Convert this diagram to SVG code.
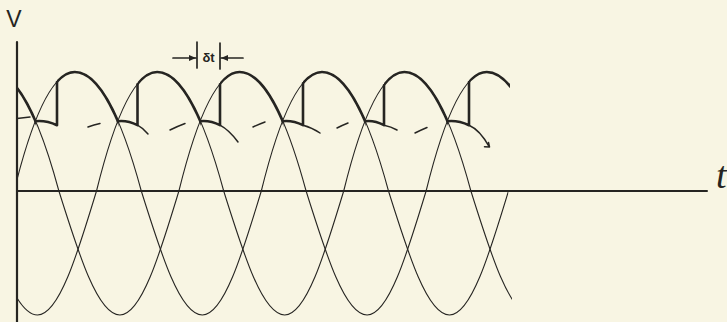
<svg xmlns="http://www.w3.org/2000/svg" width="727" height="322" viewBox="0 0 727 322">
<style>
.bg{fill:#f8f5e3}
.ln{fill:none;stroke:#262522;stroke-linecap:round;stroke-linejoin:round}
.thin{stroke-width:1.1}
.bold{stroke-width:2.6}
.dash{stroke-width:1.5}
.axis{stroke-width:2.2}
.lbl{font-family:"Liberation Sans",Arial,sans-serif;fill:#262522}
</style>
<defs>
<path id="pA" d="M14.1,191 C32.3,117.2 52.9,72 74.8,72 C98.7,72 121.35,117.2 141.3,191 C161.2,254.5 180.2,315 202.3,315 C223.7,315 242.1,254.5 261.3,191 C279.5,117.2 300.1,72 322,72 C345.9,72 368.55,117.2 388.5,191 C408.4,254.5 427.4,315 449.5,315 C470.9,315 489.3,254.5 508.5,191"/>
<path id="pB" d="M-23.5,191 C-3.6,254.5 15.4,315 37.5,315 C58.9,315 77.3,254.5 96.5,191 C114.7,117.2 135.3,72 157.2,72 C181.1,72 203.75,117.2 223.7,191 C243.6,254.5 262.6,315 284.7,315 C306.1,315 324.5,254.5 343.7,191 C361.9,117.2 382.5,72 404.4,72 C428.3,72 450.95,117.2 470.9,191 C490.8,254.5 509.8,315 531.9,315"/>
<path id="pC" d="M-7.6,72 C16.3,72 38.95,117.2 58.9,191 C78.8,254.5 97.8,315 119.9,315 C141.3,315 159.7,254.5 178.9,191 C197.1,117.2 217.7,72 239.6,72 C263.5,72 286.15,117.2 306.1,191 C326,254.5 345,315 367.1,315 C388.5,315 406.9,254.5 426.1,191 C444.3,117.2 464.9,72 486.8,72 C510.7,72 533.35,117.2 553.3,191"/>
<clipPath id="cA"><rect x="17" y="0" width="491.5" height="322"/></clipPath>
<clipPath id="cB"><rect x="17" y="0" width="495" height="322"/></clipPath>
<clipPath id="cC"><rect x="17" y="0" width="493" height="322"/></clipPath>
<clipPath id="bA"><rect x="57" y="40" width="61.5" height="150"/><rect x="303" y="40" width="62.7" height="150"/></clipPath>
<clipPath id="bB"><rect x="137.5" y="40" width="63.4" height="150"/><rect x="384" y="40" width="64.1" height="150"/></clipPath>
<clipPath id="bC"><rect x="17" y="40" width="19.1" height="150"/><rect x="220" y="40" width="63.3" height="150"/><rect x="469" y="40" width="41" height="150"/></clipPath>
<marker id="ar" viewBox="0 0 7 6" refX="7" refY="3" markerWidth="7" markerHeight="6" markerUnits="userSpaceOnUse" orient="auto"><path d="M0,0 L7,3 L0,6 z" fill="#262522"/></marker>
</defs>
<rect class="bg" x="0" y="0" width="727" height="322"/>
<g id="phases" class="ln thin">
<use href="#pA" clip-path="url(#cA)"/>
<use href="#pB" clip-path="url(#cB)"/>
<use href="#pC" clip-path="url(#cC)"/>
</g>
<g id="grid-arcs" class="ln dash">
<path d="M17,118.5 L30,117"/>
<path d="M88,127 Q94,124.8 100,123.5"/>
<path d="M170,130 Q177.5,126.3 185,123.5"/>
<path d="M253,127 Q259,124.2 265,122"/>
<path d="M337,128 Q342.5,125.2 348,123"/>
<path d="M415,133 Q421,130 427,127.5"/>
<path d="M137.5,125.2 Q143,128 148,134"/>
<path d="M220,125.2 Q229,130 238,142"/>
<path d="M303,125.2 Q312,127.5 320,133"/>
<path d="M384,125.2 Q391,126.5 397,130"/>
<path d="M469,125.2 Q480,130 489,146.5 M484.5,146.8 L489.5,147 L488.5,142.5"/>
</g>
<g id="output" class="ln bold">
<use href="#pA" clip-path="url(#bA)"/>
<use href="#pB" clip-path="url(#bB)"/>
<use href="#pC" clip-path="url(#bC)"/>
<path d="M35.5,121.2 Q46.3,120.2 57,125.2 L57,82"/>
<path d="M117.9,121.2 Q127.7,120.2 137.5,125.2 L137.5,84.3"/>
<path d="M200.3,121.2 Q210.2,120.2 220,125.2 L220,84.2"/>
<path d="M282.7,121.2 Q292.9,120.2 303,125.2 L303,83.4"/>
<path d="M365.1,121.2 Q374.6,120.2 384,125.2 L384,85.4"/>
<path d="M447.5,121.2 Q458.3,120.2 469,125.2 L469,82"/>
</g>
<g id="axes" class="ln axis">
<line x1="17" y1="42" x2="17" y2="322"/>
<line x1="17" y1="191" x2="707" y2="191" style="stroke-width:2"/>
</g>
<g id="delta-t">
<g class="ln" style="stroke-width:1.7">
<line x1="197" y1="42" x2="197" y2="68"/>
<line x1="220" y1="43" x2="220" y2="69"/>
<line x1="173" y1="58" x2="196" y2="58" marker-end="url(#ar)"/>
<line x1="243" y1="58" x2="221" y2="58" marker-end="url(#ar)"/>
</g>
<text class="lbl" x="208.5" y="62" font-size="13" font-weight="bold" text-anchor="middle">δt</text>
</g>
<g id="labels">
<text class="lbl" x="14" y="27" font-size="23" text-anchor="middle">V</text>
<text x="716" y="188" font-size="38" font-style="italic" style="font-family:'Liberation Serif','Times New Roman',serif;fill:#262522">t</text>
</g>
</svg>
